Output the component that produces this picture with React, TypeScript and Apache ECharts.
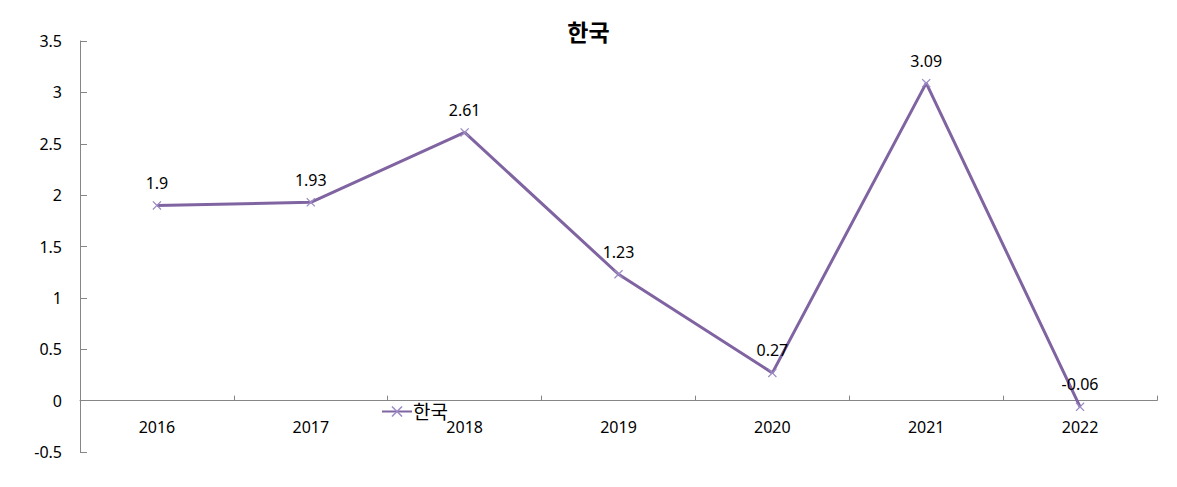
import React, { useEffect, useRef } from "react";
import * as echarts from "echarts";

const categories = ["2016", "2017", "2018", "2019", "2020", "2021", "2022"];
const seriesName = "한국";
const values = [1.9, 1.93, 2.61, 1.23, 0.27, 3.09, -0.06];
const yMin = -0.5;
const yMax = 3.5;
const yStep = 0.5;

const FONT = "'Noto Sans', 'Noto Sans CJK KR', sans-serif";
const X_SYMBOL =
  "path://M0,1L1,0L5,4L9,0L10,1L6,5L10,9L9,10L5,6L1,10L0,9L4,5Z";

export default function App() {
  const ref = useRef<HTMLDivElement>(null);
  useEffect(() => {
    document.body.style.margin = "0";
    const chart = echarts.init(ref.current!, null, { renderer: "svg" });
    chart.setOption({
      animation: false,
      backgroundColor: "#ffffff",
      textStyle: { fontFamily: FONT },
      title: {
        text: seriesName,
        left: "center",
        top: 14,
        textStyle: {
          fontFamily: "'Noto Sans CJK KR', sans-serif",
          fontSize: 23,
          fontWeight: "bold",
          color: "#000",
        },
      },
      legend: {
        left: 381,
        top: 402,
        padding: 0,
        itemWidth: 30,
        itemHeight: 14,
        itemGap: 4,
        textStyle: { fontSize: 19, color: "#000", fontFamily: FONT, padding: [0, 0, 0, -4] },
        data: [seriesName],
      },
      grid: { left: 80, right: 20, top: 41, bottom: 35, containLabel: false },
      xAxis: {
        type: "category",
        data: categories,
        boundaryGap: true,
        axisLine: { onZero: true, lineStyle: { color: "#868686", width: 1 } },
        axisTick: { show: true, inside: true, length: 5, interval: 0, lineStyle: { color: "#868686" } },
        axisLabel: { fontSize: 16, color: "#000", margin: -33, fontFamily: FONT, interval: 0 },
        splitLine: { show: false },
      },
      yAxis: {
        type: "value",
        min: yMin,
        max: yMax,
        interval: yStep,
        axisLine: { show: true, lineStyle: { color: "#868686", width: 1 } },
        axisTick: { show: true, inside: true, length: 7, lineStyle: { color: "#868686" } },
        axisLabel: { fontSize: 16, color: "#000", margin: 18, fontFamily: FONT },
        splitLine: { show: false },
      },
      series: [
        {
          name: seriesName,
          type: "line",
          data: values,
          symbol: X_SYMBOL,
          symbolSize: 9,
          showAllSymbol: true,
          lineStyle: { color: "#8064A2", width: 3 },
          itemStyle: { color: "#9C8CC4" },
          label: {
            show: true,
            position: "top",
            distance: 10,
            fontSize: 16,
            color: "#000",
            fontFamily: FONT,
          },
        },
      ],
    });
    return () => chart.dispose();
  }, []);
  return <div ref={ref} style={{ width: 1177, height: 487 }} />;
}
